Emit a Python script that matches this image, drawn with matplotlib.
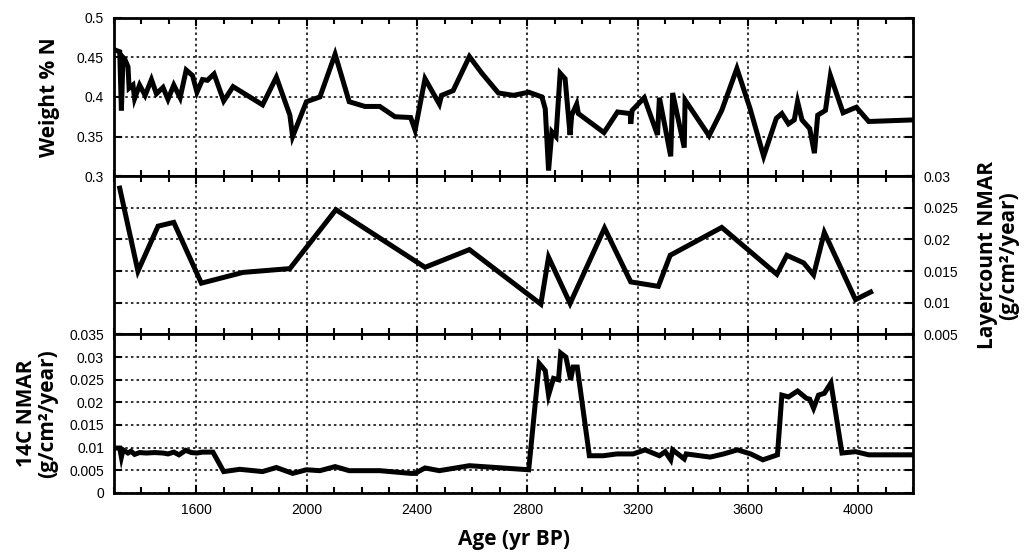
import numpy as np
import matplotlib
matplotlib.use("Agg")
import matplotlib.pyplot as plt
from matplotlib.ticker import MultipleLocator, FixedLocator

# weight % N record
n_age = [1300, 1322, 1328, 1334, 1340, 1352, 1356, 1370, 1376, 1394, 1414, 1437, 1455,
         1479, 1497, 1518, 1541, 1563, 1586, 1602, 1622, 1640, 1664, 1699, 1733, 1840,
         1890, 1939, 1949, 1999, 2048, 2103, 2154, 2211, 2265, 2320, 2377, 2393, 2429,
         2481, 2489, 2531, 2590, 2635, 2695, 2750, 2805, 2853, 2865, 2877, 2889, 2904,
         2919, 2937, 2955, 2961, 2979, 2985, 3078, 3127, 3173, 3175, 3180, 3224, 3272,
         3279, 3320, 3327, 3369, 3372, 3459, 3505, 3560, 3608, 3657, 3703, 3723, 3747,
         3768, 3780, 3796, 3824, 3841, 3853, 3881, 3899, 3945, 3993, 4038, 4200]
n_pct = [0.460, 0.457, 0.383, 0.450, 0.448, 0.438, 0.411, 0.415, 0.398, 0.415, 0.402,
         0.422, 0.404, 0.412, 0.397, 0.415, 0.399, 0.434, 0.427, 0.406, 0.422, 0.421,
         0.429, 0.395, 0.413, 0.390, 0.425, 0.377, 0.350, 0.394, 0.400, 0.454, 0.394,
         0.388, 0.388, 0.375, 0.374, 0.358, 0.423, 0.391, 0.402, 0.408, 0.451, 0.430,
         0.405, 0.402, 0.406, 0.400, 0.385, 0.307, 0.356, 0.350, 0.430, 0.423, 0.352,
         0.377, 0.391, 0.379, 0.355, 0.381, 0.379, 0.366, 0.383, 0.399, 0.352, 0.399,
         0.325, 0.405, 0.336, 0.396, 0.351, 0.383, 0.436, 0.385, 0.325, 0.373, 0.379,
         0.366, 0.371, 0.394, 0.371, 0.360, 0.329, 0.377, 0.383, 0.427, 0.380, 0.387,
         0.369, 0.371]

# layer-count based NMAR
lc_age = [1322, 1388, 1461, 1518, 1618, 1769, 1939, 2106, 2429, 2590, 2849, 2877, 2955,
          3080, 3175, 3275, 3318, 3505, 3705, 3741, 3802, 3838, 3877, 3990, 4045]
lc_nmar = [0.0281, 0.0150, 0.0221, 0.0227, 0.0131, 0.0148, 0.0154, 0.0247, 0.0156,
           0.0184, 0.0098, 0.0172, 0.0099, 0.0218, 0.0133, 0.0126, 0.0175, 0.0219,
           0.0145, 0.0175, 0.0163, 0.0144, 0.0211, 0.0105, 0.0117]

# 14C based NMAR
c14_age = [1304, 1322, 1328, 1334, 1352, 1363, 1376, 1394, 1418, 1449, 1479, 1497, 1518,
           1537, 1561, 1582, 1602, 1622, 1660, 1699, 1757, 1840, 1890, 1949, 1999, 2048,
           2103, 2154, 2265, 2377, 2393, 2429, 2481, 2590, 2805, 2843, 2865, 2877, 2895,
           2913, 2921, 2940, 2957, 2966, 2981, 3025, 3076, 3124, 3184, 3227, 3279, 3300,
           3320, 3327, 3369, 3376, 3463, 3512, 3562, 3610, 3654, 3707, 3723, 3747, 3780,
           3812, 3824, 3838, 3856, 3877, 3901, 3941, 3990, 4038, 4200]
c14_nmar = [0.0099, 0.0099, 0.0079, 0.0095, 0.0088, 0.0092, 0.0085, 0.0089, 0.0088,
            0.0089, 0.0088, 0.0086, 0.0090, 0.0084, 0.0094, 0.0089, 0.0088, 0.0090,
            0.0090, 0.0047, 0.0052, 0.0047, 0.0056, 0.0043, 0.0051, 0.0049, 0.0058,
            0.0049, 0.0049, 0.0043, 0.0043, 0.0055, 0.0049, 0.0060, 0.0051, 0.0286,
            0.0270, 0.0216, 0.0253, 0.0250, 0.0309, 0.0300, 0.0250, 0.0278, 0.0278,
            0.0082, 0.0082, 0.0086, 0.0086, 0.0095, 0.0082, 0.0091, 0.0073, 0.0095,
            0.0075, 0.0086, 0.0079, 0.0086, 0.0095, 0.0086, 0.0073, 0.0084, 0.0216,
            0.0212, 0.0225, 0.0209, 0.0207, 0.0187, 0.0216, 0.0220, 0.0243, 0.0088,
            0.0091, 0.0084, 0.0084]

plt.rcParams['font.family'] = ['Liberation Sans', 'DejaVu Sans']
label_font = dict(family=['Open Sans', 'DejaVu Sans'], fontweight='bold', fontsize=15)

fig = plt.figure(figsize=(10.24, 5.55), dpi=100)
gs = fig.add_gridspec(3, 1, left=0.111, right=0.892, top=0.968, bottom=0.112, hspace=0)
ax1 = fig.add_subplot(gs[0])
ax2 = fig.add_subplot(gs[1], sharex=ax1)
ax3 = fig.add_subplot(gs[2], sharex=ax1)

line_kw = dict(color='black', lw=3.6, solid_joinstyle='miter')
ax1.plot(n_age, n_pct, **line_kw)
ax2.plot(lc_age, lc_nmar, **line_kw)
ax3.plot(c14_age, c14_nmar, **line_kw)

ax1.set_xlim(1300, 4200)
ax1.set_ylim(0.3, 0.5)
ax2.set_ylim(0.005, 0.03)
ax3.set_ylim(0, 0.035)

ax1.set_yticks([0.3, 0.35, 0.4, 0.45, 0.5])
ax1.set_yticklabels(['0.3', '0.35', '0.4', '0.45', '0.5'])
ax2.set_yticks([0.005, 0.01, 0.015, 0.02, 0.025, 0.03])
ax2.set_yticklabels(['0.005', '0.01', '0.015', '0.02', '0.025', '0.03'])
ax3.set_yticks([0, 0.005, 0.01, 0.015, 0.02, 0.025, 0.03, 0.035])
ax3.set_yticklabels(['0', '0.005', '0.01', '0.015', '0.02', '0.025', '0.03', '0.035'])

for ax in (ax1, ax2, ax3):
    ax.xaxis.set_major_locator(FixedLocator([1600, 2000, 2400, 2800, 3200, 3600, 4000]))
    ax.xaxis.set_minor_locator(MultipleLocator(100))
    ax.tick_params(which='both', direction='in', top=True, bottom=True, left=True,
                   right=True, width=1.5, labelsize=10, pad=7)
    ax.tick_params(which='major', length=6)
    ax.tick_params(which='minor', length=4)
    ax.grid(True, which='major', linestyle=(0, (1.3, 1.6)), color='#333333', lw=1.4)
    for s in ax.spines.values():
        s.set_linewidth(2.0)
    ax.set_axisbelow(True)

ax1.tick_params(labelbottom=False)
ax2.tick_params(labelbottom=False, labelleft=False, labelright=True)
ax3.tick_params(labelbottom=True)

ax1.set_ylabel('Weight % N', labelpad=12, **label_font)
ax2.yaxis.set_label_position('right')
ax2.set_ylabel('Layercount NMAR\n(g/cm\u00b2/year)', labelpad=14, linespacing=1.0, **label_font)
ax3.set_ylabel('14C NMAR\n(g/cm\u00b2/year)', labelpad=8, linespacing=1.0, **label_font)
ax3.set_xlabel('Age (yr BP)', labelpad=9, **label_font)

fig.savefig('out.png', dpi=100)
